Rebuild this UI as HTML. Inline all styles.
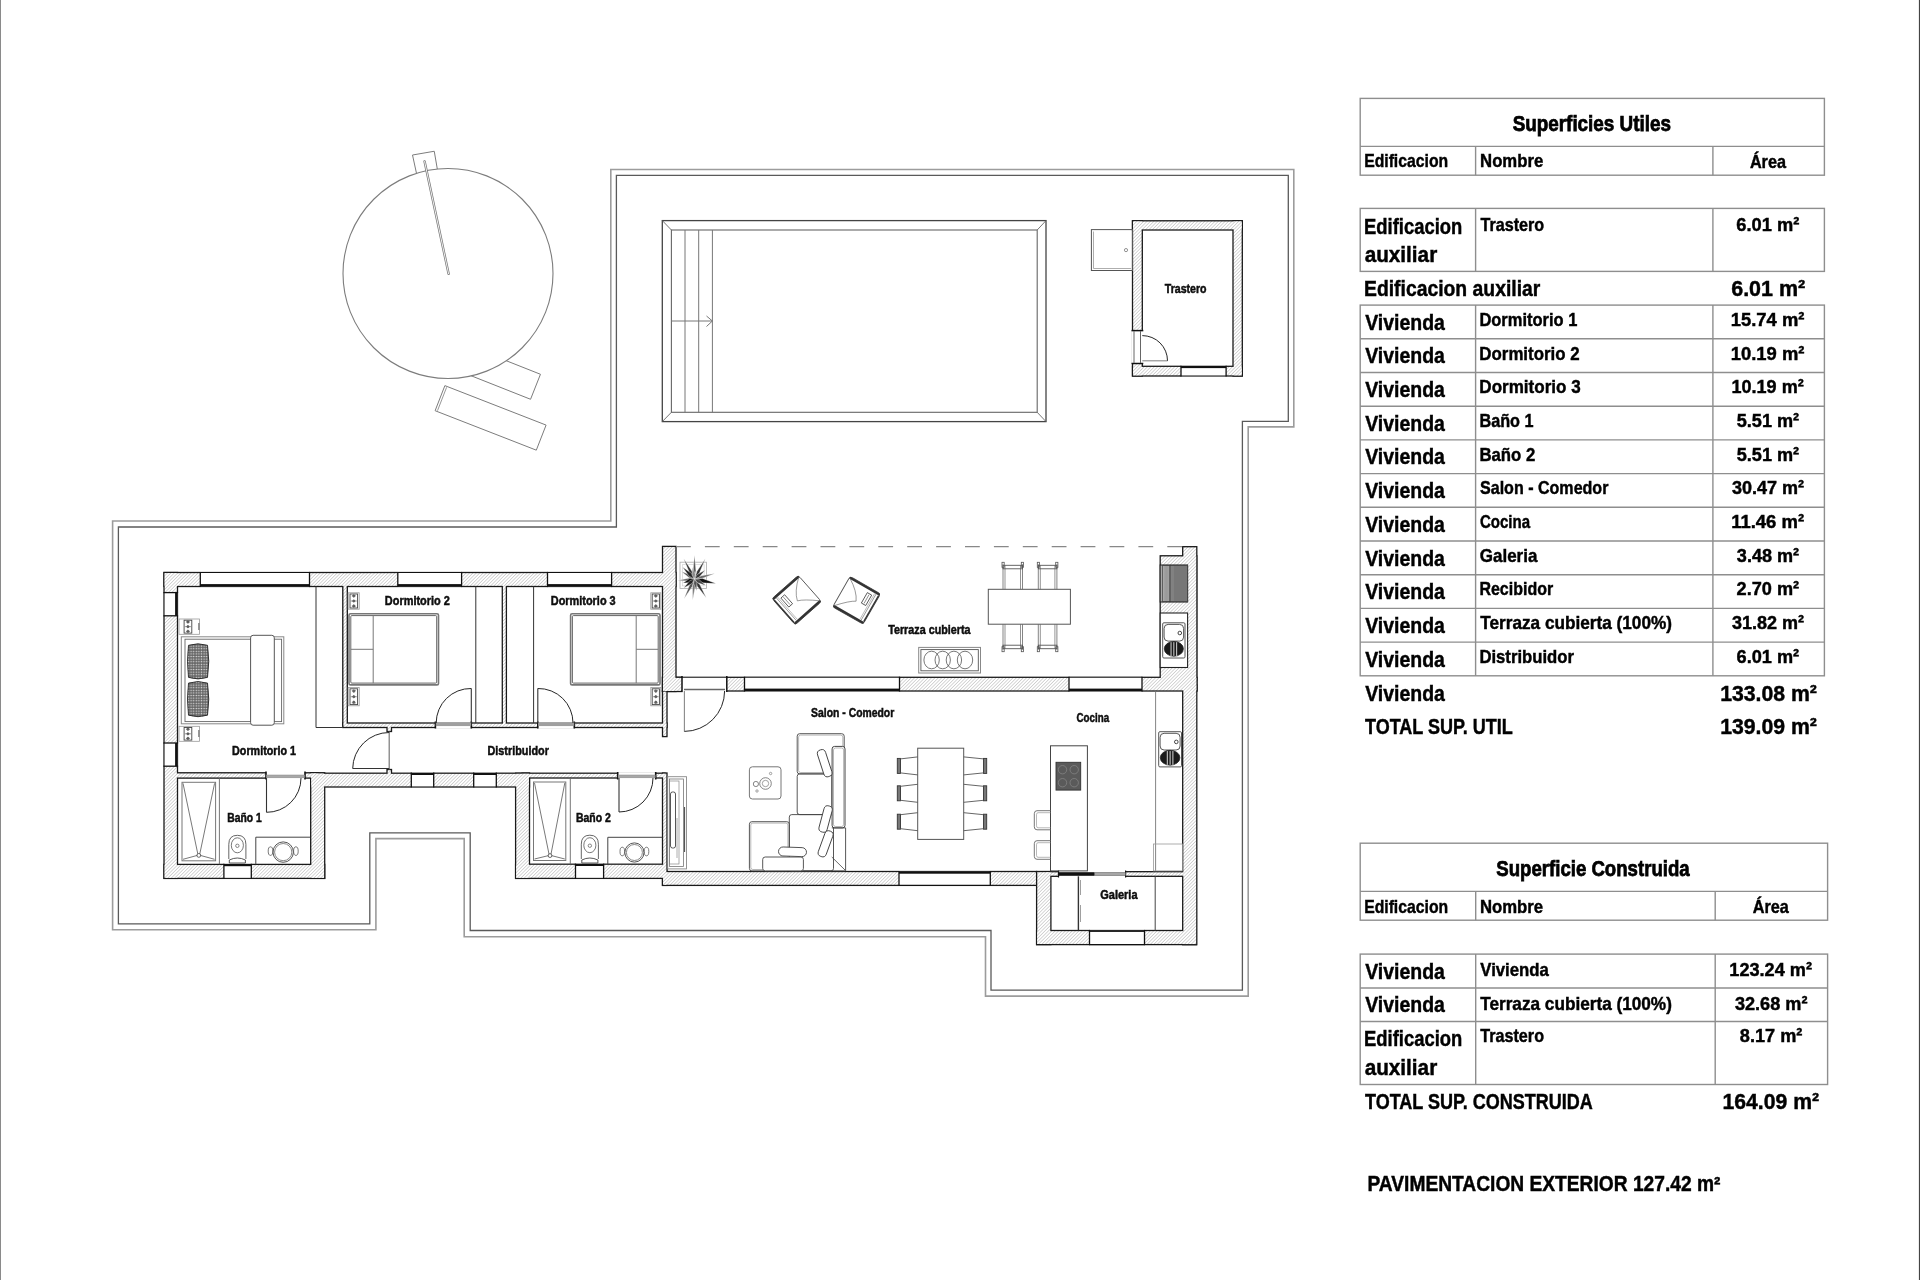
<!DOCTYPE html>
<html><head><meta charset="utf-8"><title>Plano</title>
<style>html,body{margin:0;padding:0;background:#fff;}svg{display:block;will-change:transform;opacity:0.999;}
text{font-family:"Liberation Sans",sans-serif;font-weight:bold;stroke:#000;stroke-width:0.45px;}</style></head>
<body><svg width="1920" height="1280" viewBox="0 0 1920 1280">
<defs><pattern id="knit" width="2.6" height="2.6" patternUnits="userSpaceOnUse"><rect width="2.6" height="2.6" fill="#666"/><circle cx="1.3" cy="1.3" r="0.75" fill="#ddd"/></pattern><pattern id="hatch" width="2.4" height="2.4" patternUnits="userSpaceOnUse" patternTransform="rotate(45)"><rect width="2.4" height="2.4" fill="#fff"/><line x1="0" y1="0" x2="0" y2="2.4" stroke="#9c9c9c" stroke-width="0.8"/></pattern></defs>
<rect width="1920" height="1280" fill="#fff"/>
<line x1="0.50" y1="0.00" x2="0.50" y2="1280.00" stroke="#8a8a8a" stroke-width="1" />
<line x1="1919.50" y1="0.00" x2="1919.50" y2="1280.00" stroke="#444" stroke-width="1.2" />
<polygon points="112.60,521.00 610.80,521.00 610.80,169.50 1293.80,169.50 1293.80,426.90 1248.20,426.90 1248.20,996.10 985.50,996.10 985.50,936.80 464.20,936.80 464.20,838.60 375.90,838.60 375.90,929.70 112.60,929.70" stroke="#9c9c9c" stroke-width="1.6" fill="none" />
<polygon points="118.40,527.00 616.40,527.00 616.40,175.30 1288.30,175.30 1288.30,421.40 1242.40,421.40 1242.40,990.20 991.00,990.20 991.00,930.50 470.20,930.50 470.20,832.80 369.80,832.80 369.80,923.80 118.40,923.80" stroke="#5a5a5a" stroke-width="1.3" fill="none" />
<g>
<rect x="164.00" y="572.50" width="512.00" height="14.00" stroke="#1a1a1a" stroke-width="1.3" fill="#1a1a1a" />
<rect x="164.00" y="572.50" width="13.50" height="305.90" stroke="#1a1a1a" stroke-width="1.3" fill="#1a1a1a" />
<rect x="164.00" y="864.40" width="160.70" height="14.00" stroke="#1a1a1a" stroke-width="1.3" fill="#1a1a1a" />
<rect x="310.70" y="772.80" width="14.00" height="105.60" stroke="#1a1a1a" stroke-width="1.3" fill="#1a1a1a" />
<rect x="310.70" y="773.20" width="218.80" height="13.80" stroke="#1a1a1a" stroke-width="1.3" fill="#1a1a1a" />
<rect x="515.60" y="773.20" width="13.90" height="105.20" stroke="#1a1a1a" stroke-width="1.3" fill="#1a1a1a" />
<rect x="515.60" y="864.20" width="151.10" height="14.20" stroke="#1a1a1a" stroke-width="1.3" fill="#1a1a1a" />
<rect x="662.50" y="773.00" width="4.50" height="112.40" stroke="#1a1a1a" stroke-width="1.3" fill="#1a1a1a" />
<rect x="170.00" y="772.80" width="148.00" height="5.30" stroke="#1a1a1a" stroke-width="1.3" fill="#1a1a1a" />
<rect x="522.00" y="773.20" width="143.00" height="4.80" stroke="#1a1a1a" stroke-width="1.3" fill="#1a1a1a" />
<rect x="342.80" y="580.00" width="4.50" height="145.00" stroke="#1a1a1a" stroke-width="1.3" fill="#1a1a1a" />
<rect x="502.30" y="580.00" width="4.10" height="145.00" stroke="#1a1a1a" stroke-width="1.3" fill="#1a1a1a" />
<rect x="342.80" y="723.00" width="324.20" height="4.50" stroke="#1a1a1a" stroke-width="1.3" fill="#1a1a1a" />
<rect x="387.00" y="725.00" width="4.50" height="6.50" stroke="#1a1a1a" stroke-width="1.3" fill="#1a1a1a" />
<rect x="387.00" y="769.50" width="4.50" height="6.50" stroke="#1a1a1a" stroke-width="1.3" fill="#1a1a1a" />
<rect x="662.50" y="546.40" width="13.50" height="145.10" stroke="#1a1a1a" stroke-width="1.3" fill="#1a1a1a" />
<rect x="662.50" y="677.30" width="19.50" height="14.20" stroke="#1a1a1a" stroke-width="1.3" fill="#1a1a1a" />
<rect x="662.50" y="691.00" width="4.50" height="45.60" stroke="#1a1a1a" stroke-width="1.3" fill="#1a1a1a" />
<rect x="662.50" y="677.30" width="534.50" height="13.70" stroke="#1a1a1a" stroke-width="1.3" fill="#1a1a1a" />
<rect x="1182.70" y="546.70" width="14.10" height="144.30" stroke="#1a1a1a" stroke-width="1.3" fill="#1a1a1a" />
<rect x="1160.20" y="555.80" width="36.60" height="124.20" stroke="#1a1a1a" stroke-width="1.3" fill="#1a1a1a" />
<rect x="1182.70" y="685.00" width="14.10" height="259.70" stroke="#1a1a1a" stroke-width="1.3" fill="#1a1a1a" />
<rect x="662.50" y="871.50" width="374.10" height="13.90" stroke="#1a1a1a" stroke-width="1.3" fill="#1a1a1a" />
<rect x="1036.60" y="871.50" width="14.30" height="73.10" stroke="#1a1a1a" stroke-width="1.3" fill="#1a1a1a" />
<rect x="1036.60" y="930.50" width="159.70" height="14.10" stroke="#1a1a1a" stroke-width="1.3" fill="#1a1a1a" />
<rect x="1045.00" y="871.70" width="143.00" height="4.60" stroke="#1a1a1a" stroke-width="1.3" fill="#1a1a1a" />
<rect x="1132.50" y="220.80" width="109.80" height="9.20" stroke="#1a1a1a" stroke-width="1.3" fill="#1a1a1a" />
<rect x="1132.50" y="366.30" width="109.80" height="9.70" stroke="#1a1a1a" stroke-width="1.3" fill="#1a1a1a" />
<rect x="1132.50" y="220.80" width="9.80" height="155.20" stroke="#1a1a1a" stroke-width="1.3" fill="#1a1a1a" />
<rect x="1233.00" y="220.80" width="9.30" height="155.20" stroke="#1a1a1a" stroke-width="1.3" fill="#1a1a1a" />
<rect x="164.65" y="573.15" width="510.70" height="12.70" stroke="none" stroke-width="0" fill="url(#hatch)" />
<rect x="164.65" y="573.15" width="12.20" height="304.60" stroke="none" stroke-width="0" fill="url(#hatch)" />
<rect x="164.65" y="865.05" width="159.40" height="12.70" stroke="none" stroke-width="0" fill="url(#hatch)" />
<rect x="311.35" y="773.45" width="12.70" height="104.30" stroke="none" stroke-width="0" fill="url(#hatch)" />
<rect x="311.35" y="773.85" width="217.50" height="12.50" stroke="none" stroke-width="0" fill="url(#hatch)" />
<rect x="516.25" y="773.85" width="12.60" height="103.90" stroke="none" stroke-width="0" fill="url(#hatch)" />
<rect x="516.25" y="864.85" width="149.80" height="12.90" stroke="none" stroke-width="0" fill="url(#hatch)" />
<rect x="663.15" y="773.65" width="3.20" height="111.10" stroke="none" stroke-width="0" fill="url(#hatch)" />
<rect x="170.65" y="773.45" width="146.70" height="4.00" stroke="none" stroke-width="0" fill="url(#hatch)" />
<rect x="522.65" y="773.85" width="141.70" height="3.50" stroke="none" stroke-width="0" fill="url(#hatch)" />
<rect x="343.45" y="580.65" width="3.20" height="143.70" stroke="none" stroke-width="0" fill="url(#hatch)" />
<rect x="502.95" y="580.65" width="2.80" height="143.70" stroke="none" stroke-width="0" fill="url(#hatch)" />
<rect x="343.45" y="723.65" width="322.90" height="3.20" stroke="none" stroke-width="0" fill="url(#hatch)" />
<rect x="387.65" y="725.65" width="3.20" height="5.20" stroke="none" stroke-width="0" fill="url(#hatch)" />
<rect x="387.65" y="770.15" width="3.20" height="5.20" stroke="none" stroke-width="0" fill="url(#hatch)" />
<rect x="663.15" y="547.05" width="12.20" height="143.80" stroke="none" stroke-width="0" fill="url(#hatch)" />
<rect x="663.15" y="677.95" width="18.20" height="12.90" stroke="none" stroke-width="0" fill="url(#hatch)" />
<rect x="663.15" y="691.65" width="3.20" height="44.30" stroke="none" stroke-width="0" fill="url(#hatch)" />
<rect x="663.15" y="677.95" width="533.20" height="12.40" stroke="none" stroke-width="0" fill="url(#hatch)" />
<rect x="1183.35" y="547.35" width="12.80" height="143.00" stroke="none" stroke-width="0" fill="url(#hatch)" />
<rect x="1160.85" y="556.45" width="35.30" height="122.90" stroke="none" stroke-width="0" fill="url(#hatch)" />
<rect x="1183.35" y="685.65" width="12.80" height="258.40" stroke="none" stroke-width="0" fill="url(#hatch)" />
<rect x="663.15" y="872.15" width="372.80" height="12.60" stroke="none" stroke-width="0" fill="url(#hatch)" />
<rect x="1037.25" y="872.15" width="13.00" height="71.80" stroke="none" stroke-width="0" fill="url(#hatch)" />
<rect x="1037.25" y="931.15" width="158.40" height="12.80" stroke="none" stroke-width="0" fill="url(#hatch)" />
<rect x="1045.65" y="872.35" width="141.70" height="3.30" stroke="none" stroke-width="0" fill="url(#hatch)" />
<rect x="1133.15" y="221.45" width="108.50" height="7.90" stroke="none" stroke-width="0" fill="url(#hatch)" />
<rect x="1133.15" y="366.95" width="108.50" height="8.40" stroke="none" stroke-width="0" fill="url(#hatch)" />
<rect x="1133.15" y="221.45" width="8.50" height="153.90" stroke="none" stroke-width="0" fill="url(#hatch)" />
<rect x="1233.65" y="221.45" width="8.00" height="153.90" stroke="none" stroke-width="0" fill="url(#hatch)" />
</g>
<rect x="200.30" y="571.80" width="109.20" height="15.40" stroke="none" stroke-width="0" fill="#fff" />
<line x1="200.30" y1="571.90" x2="200.30" y2="587.10" stroke="#111" stroke-width="1.3" />
<line x1="309.50" y1="571.90" x2="309.50" y2="587.10" stroke="#111" stroke-width="1.3" />
<line x1="200.30" y1="572.50" x2="309.50" y2="572.50" stroke="#111" stroke-width="1.1" />
<rect x="200.30" y="584.10" width="109.20" height="2.80" stroke="none" stroke-width="0" fill="#111" />
<rect x="397.80" y="571.80" width="63.80" height="15.40" stroke="none" stroke-width="0" fill="#fff" />
<line x1="397.80" y1="571.90" x2="397.80" y2="587.10" stroke="#111" stroke-width="1.3" />
<line x1="461.60" y1="571.90" x2="461.60" y2="587.10" stroke="#111" stroke-width="1.3" />
<line x1="397.80" y1="572.50" x2="461.60" y2="572.50" stroke="#111" stroke-width="1.1" />
<rect x="397.80" y="584.10" width="63.80" height="2.80" stroke="none" stroke-width="0" fill="#111" />
<rect x="547.50" y="571.80" width="64.10" height="15.40" stroke="none" stroke-width="0" fill="#fff" />
<line x1="547.50" y1="571.90" x2="547.50" y2="587.10" stroke="#111" stroke-width="1.3" />
<line x1="611.60" y1="571.90" x2="611.60" y2="587.10" stroke="#111" stroke-width="1.3" />
<line x1="547.50" y1="572.50" x2="611.60" y2="572.50" stroke="#111" stroke-width="1.1" />
<rect x="547.50" y="584.10" width="64.10" height="2.80" stroke="none" stroke-width="0" fill="#111" />
<rect x="163.30" y="592.60" width="14.90" height="23.20" stroke="none" stroke-width="0" fill="#fff" />
<line x1="163.40" y1="592.60" x2="178.10" y2="592.60" stroke="#111" stroke-width="1.3" />
<line x1="163.40" y1="615.80" x2="178.10" y2="615.80" stroke="#111" stroke-width="1.3" />
<line x1="164.00" y1="592.60" x2="164.00" y2="615.80" stroke="#111" stroke-width="1.1" />
<rect x="175.10" y="592.60" width="2.80" height="23.20" stroke="none" stroke-width="0" fill="#111" />
<rect x="163.30" y="743.00" width="14.90" height="23.20" stroke="none" stroke-width="0" fill="#fff" />
<line x1="163.40" y1="743.00" x2="178.10" y2="743.00" stroke="#111" stroke-width="1.3" />
<line x1="163.40" y1="766.20" x2="178.10" y2="766.20" stroke="#111" stroke-width="1.3" />
<line x1="164.00" y1="743.00" x2="164.00" y2="766.20" stroke="#111" stroke-width="1.1" />
<rect x="175.10" y="743.00" width="2.80" height="23.20" stroke="none" stroke-width="0" fill="#111" />
<rect x="223.90" y="863.70" width="27.40" height="15.40" stroke="none" stroke-width="0" fill="#fff" />
<line x1="223.90" y1="863.80" x2="223.90" y2="879.00" stroke="#111" stroke-width="1.3" />
<line x1="251.30" y1="863.80" x2="251.30" y2="879.00" stroke="#111" stroke-width="1.3" />
<line x1="223.90" y1="878.40" x2="251.30" y2="878.40" stroke="#111" stroke-width="1.1" />
<rect x="223.90" y="864.00" width="27.40" height="2.20" stroke="none" stroke-width="0" fill="#111" />
<rect x="575.50" y="863.50" width="28.10" height="15.60" stroke="none" stroke-width="0" fill="#fff" />
<line x1="575.50" y1="863.60" x2="575.50" y2="879.00" stroke="#111" stroke-width="1.3" />
<line x1="603.60" y1="863.60" x2="603.60" y2="879.00" stroke="#111" stroke-width="1.3" />
<line x1="575.50" y1="878.40" x2="603.60" y2="878.40" stroke="#111" stroke-width="1.1" />
<rect x="575.50" y="863.80" width="28.10" height="2.20" stroke="none" stroke-width="0" fill="#111" />
<rect x="411.30" y="772.50" width="22.40" height="15.20" stroke="none" stroke-width="0" fill="#fff" />
<line x1="411.30" y1="772.60" x2="411.30" y2="787.60" stroke="#111" stroke-width="1.3" />
<line x1="433.70" y1="772.60" x2="433.70" y2="787.60" stroke="#111" stroke-width="1.3" />
<line x1="411.30" y1="787.00" x2="433.70" y2="787.00" stroke="#111" stroke-width="1.1" />
<rect x="411.30" y="772.80" width="22.40" height="2.20" stroke="none" stroke-width="0" fill="#111" />
<rect x="473.70" y="772.50" width="22.60" height="15.20" stroke="none" stroke-width="0" fill="#fff" />
<line x1="473.70" y1="772.60" x2="473.70" y2="787.60" stroke="#111" stroke-width="1.3" />
<line x1="496.30" y1="772.60" x2="496.30" y2="787.60" stroke="#111" stroke-width="1.3" />
<line x1="473.70" y1="787.00" x2="496.30" y2="787.00" stroke="#111" stroke-width="1.1" />
<rect x="473.70" y="772.80" width="22.60" height="2.20" stroke="none" stroke-width="0" fill="#111" />
<rect x="744.50" y="676.60" width="155.00" height="15.10" stroke="none" stroke-width="0" fill="#fff" />
<line x1="744.50" y1="676.70" x2="744.50" y2="691.60" stroke="#111" stroke-width="1.3" />
<line x1="899.50" y1="676.70" x2="899.50" y2="691.60" stroke="#111" stroke-width="1.3" />
<line x1="744.50" y1="677.30" x2="899.50" y2="677.30" stroke="#111" stroke-width="1.1" />
<rect x="744.50" y="688.60" width="155.00" height="2.80" stroke="none" stroke-width="0" fill="#111" />
<rect x="1069.00" y="676.60" width="73.00" height="15.10" stroke="none" stroke-width="0" fill="#fff" />
<line x1="1069.00" y1="676.70" x2="1069.00" y2="691.60" stroke="#111" stroke-width="1.3" />
<line x1="1142.00" y1="676.70" x2="1142.00" y2="691.60" stroke="#111" stroke-width="1.3" />
<line x1="1069.00" y1="677.30" x2="1142.00" y2="677.30" stroke="#111" stroke-width="1.1" />
<rect x="1069.00" y="688.60" width="73.00" height="2.80" stroke="none" stroke-width="0" fill="#111" />
<rect x="899.00" y="870.80" width="91.30" height="15.30" stroke="none" stroke-width="0" fill="#fff" />
<line x1="899.00" y1="870.90" x2="899.00" y2="886.00" stroke="#111" stroke-width="1.3" />
<line x1="990.30" y1="870.90" x2="990.30" y2="886.00" stroke="#111" stroke-width="1.3" />
<line x1="899.00" y1="885.40" x2="990.30" y2="885.40" stroke="#111" stroke-width="1.1" />
<rect x="899.00" y="871.10" width="91.30" height="2.60" stroke="none" stroke-width="0" fill="#111" />
<rect x="1089.50" y="929.80" width="55.00" height="15.50" stroke="none" stroke-width="0" fill="#fff" />
<line x1="1089.50" y1="929.90" x2="1089.50" y2="945.20" stroke="#111" stroke-width="1.3" />
<line x1="1144.50" y1="929.90" x2="1144.50" y2="945.20" stroke="#111" stroke-width="1.3" />
<line x1="1089.50" y1="944.60" x2="1144.50" y2="944.60" stroke="#111" stroke-width="1.1" />
<rect x="1089.50" y="930.10" width="55.00" height="1.80" stroke="none" stroke-width="0" fill="#111" />
<rect x="1181.00" y="365.60" width="45.10" height="11.10" stroke="none" stroke-width="0" fill="#fff" />
<line x1="1181.00" y1="365.70" x2="1181.00" y2="376.60" stroke="#111" stroke-width="1.3" />
<line x1="1226.10" y1="365.70" x2="1226.10" y2="376.60" stroke="#111" stroke-width="1.3" />
<line x1="1181.00" y1="376.00" x2="1226.10" y2="376.00" stroke="#111" stroke-width="1.1" />
<rect x="1181.00" y="365.90" width="45.10" height="2.20" stroke="none" stroke-width="0" fill="#111" />
<rect x="435.40" y="722.00" width="35.90" height="6.50" stroke="none" stroke-width="0" fill="#fff" />
<rect x="537.80" y="722.00" width="36.50" height="6.50" stroke="none" stroke-width="0" fill="#fff" />
<line x1="435.40" y1="721.50" x2="435.40" y2="728.50" stroke="#111" stroke-width="1.6" />
<line x1="471.30" y1="721.50" x2="471.30" y2="728.50" stroke="#111" stroke-width="1.6" />
<line x1="537.80" y1="721.50" x2="537.80" y2="728.50" stroke="#111" stroke-width="1.6" />
<line x1="574.30" y1="721.50" x2="574.30" y2="728.50" stroke="#111" stroke-width="1.6" />
<rect x="436.00" y="722.40" width="35.00" height="3.40" stroke="#888" stroke-width="0.5" fill="#a0a0a0" />
<rect x="538.20" y="722.40" width="35.80" height="3.40" stroke="#888" stroke-width="0.5" fill="#a0a0a0" />
<line x1="471.30" y1="723.00" x2="471.30" y2="688.50" stroke="#333" stroke-width="1.1" />
<path d="M471.30,688.50 A34.50,34.50 0 0 0 436.20,723.00" stroke="#262626" stroke-width="1.0" fill="none" />
<line x1="537.80" y1="723.00" x2="537.80" y2="688.50" stroke="#333" stroke-width="1.1" />
<path d="M537.80,688.50 A34.50,34.50 0 0 1 573.00,723.00" stroke="#262626" stroke-width="1.0" fill="none" />
<rect x="266.00" y="771.80" width="39.00" height="7.30" stroke="none" stroke-width="0" fill="#fff" />
<line x1="266.00" y1="771.50" x2="266.00" y2="779.50" stroke="#111" stroke-width="1.6" />
<line x1="305.00" y1="771.50" x2="305.00" y2="779.50" stroke="#111" stroke-width="1.6" />
<rect x="266.50" y="775.00" width="38.00" height="2.80" stroke="#888" stroke-width="0.5" fill="#a8a8a8" />
<line x1="266.50" y1="778.10" x2="266.50" y2="812.30" stroke="#333" stroke-width="1.1" />
<path d="M266.50,812.30 A34.20,34.20 0 0 0 301.00,778.10" stroke="#262626" stroke-width="1.0" fill="none" />
<rect x="617.70" y="772.20" width="38.00" height="6.80" stroke="none" stroke-width="0" fill="#fff" />
<line x1="617.70" y1="772.00" x2="617.70" y2="779.50" stroke="#111" stroke-width="1.6" />
<line x1="655.70" y1="772.00" x2="655.70" y2="779.50" stroke="#111" stroke-width="1.6" />
<rect x="618.20" y="775.00" width="37.00" height="2.80" stroke="#888" stroke-width="0.5" fill="#a8a8a8" />
<line x1="619.00" y1="778.00" x2="619.00" y2="812.00" stroke="#333" stroke-width="1.1" />
<path d="M619.00,812.00 A34.00,34.00 0 0 0 653.00,778.00" stroke="#262626" stroke-width="1.0" fill="none" />
<line x1="389.20" y1="731.50" x2="389.20" y2="769.50" stroke="#777" stroke-width="1.2" />
<line x1="389.20" y1="768.50" x2="352.70" y2="768.50" stroke="#333" stroke-width="1.1" />
<path d="M352.70,768.50 A36.50,36.50 0 0 1 389.20,732.50" stroke="#262626" stroke-width="1.0" fill="none" />
<rect x="682.00" y="676.30" width="44.80" height="15.70" stroke="none" stroke-width="0" fill="#fff" />
<line x1="682.00" y1="676.00" x2="682.00" y2="692.00" stroke="#111" stroke-width="1.5" />
<line x1="726.80" y1="676.00" x2="726.80" y2="692.00" stroke="#111" stroke-width="1.5" />
<line x1="684.00" y1="689.50" x2="725.00" y2="689.50" stroke="#666" stroke-width="1.6" />
<line x1="682.00" y1="677.30" x2="726.80" y2="677.30" stroke="#111" stroke-width="1.1" />
<line x1="684.40" y1="691.00" x2="684.40" y2="731.40" stroke="#888" stroke-width="1.1" />
<path d="M684.40,731.40 A40.40,40.40 0 0 0 724.60,691.00" stroke="#262626" stroke-width="1.0" fill="none" />
<rect x="1131.50" y="330.60" width="11.80" height="32.90" stroke="none" stroke-width="0" fill="#fff" />
<line x1="1131.50" y1="330.60" x2="1143.30" y2="330.60" stroke="#111" stroke-width="1.5" />
<line x1="1131.50" y1="363.50" x2="1143.30" y2="363.50" stroke="#111" stroke-width="1.5" />
<line x1="1134.00" y1="331.00" x2="1134.00" y2="363.00" stroke="#666" stroke-width="1" />
<line x1="1140.50" y1="331.00" x2="1140.50" y2="363.00" stroke="#666" stroke-width="1" />
<line x1="1142.30" y1="360.80" x2="1167.50" y2="360.80" stroke="#888" stroke-width="1.1" />
<path d="M1167.50,360.80 A25.20,25.20 0 0 0 1142.30,335.60" stroke="#262626" stroke-width="1.0" fill="none" />
<rect x="1058.50" y="870.70" width="67.10" height="6.60" stroke="none" stroke-width="0" fill="#fff" />
<line x1="1058.50" y1="870.50" x2="1058.50" y2="877.50" stroke="#111" stroke-width="1.2" />
<line x1="1125.60" y1="870.50" x2="1125.60" y2="877.50" stroke="#111" stroke-width="1.2" />
<rect x="1058.50" y="872.20" width="35.90" height="3.60" stroke="none" stroke-width="0" fill="#111" />
<rect x="1094.40" y="872.80" width="31.20" height="2.40" stroke="#555" stroke-width="0.8" fill="#bbb" />
<g font-family="Liberation Sans, sans-serif" font-weight="bold">
<text x="232.08" y="754.70" font-size="12.2" textLength="63.92" lengthAdjust="spacingAndGlyphs" fill="#111">Dormitorio 1</text>
<text x="384.87" y="604.80" font-size="12.2" textLength="64.97" lengthAdjust="spacingAndGlyphs" fill="#111">Dormitorio 2</text>
<text x="550.77" y="604.80" font-size="12.2" textLength="64.92" lengthAdjust="spacingAndGlyphs" fill="#111">Dormitorio 3</text>
<text x="487.47" y="754.80" font-size="12.2" textLength="61.39" lengthAdjust="spacingAndGlyphs" fill="#111">Distribuidor</text>
<text x="227.31" y="822.00" font-size="12.2" textLength="34.48" lengthAdjust="spacingAndGlyphs" fill="#111">Baño 1</text>
<text x="575.90" y="821.70" font-size="12.2" textLength="34.92" lengthAdjust="spacingAndGlyphs" fill="#111">Baño 2</text>
<text x="888.18" y="634.00" font-size="12.2" textLength="82.36" lengthAdjust="spacingAndGlyphs" fill="#111">Terraza cubierta</text>
<text x="811.10" y="716.70" font-size="12.2" textLength="83.16" lengthAdjust="spacingAndGlyphs" fill="#111">Salon - Comedor</text>
<text x="1076.50" y="722.40" font-size="12.2" textLength="32.64" lengthAdjust="spacingAndGlyphs" fill="#111">Cocina</text>
<text x="1100.25" y="898.60" font-size="12.2" textLength="37.29" lengthAdjust="spacingAndGlyphs" fill="#111">Galeria</text>
<text x="1164.78" y="293.10" font-size="12.2" textLength="41.83" lengthAdjust="spacingAndGlyphs" fill="#111">Trastero</text>
</g>
<rect x="1360.20" y="98.40" width="464.20" height="76.80" stroke="#8e8e8e" stroke-width="1.4" fill="none" />
<line x1="1360.20" y1="146.40" x2="1824.40" y2="146.40" stroke="#8e8e8e" stroke-width="1.4" />
<line x1="1475.60" y1="146.40" x2="1475.60" y2="175.20" stroke="#8e8e8e" stroke-width="1.4" />
<line x1="1712.90" y1="146.40" x2="1712.90" y2="175.20" stroke="#8e8e8e" stroke-width="1.4" />
<rect x="1360.20" y="208.40" width="464.20" height="63.00" stroke="#8e8e8e" stroke-width="1.4" fill="none" />
<line x1="1475.60" y1="208.40" x2="1475.60" y2="271.40" stroke="#8e8e8e" stroke-width="1.4" />
<line x1="1712.90" y1="208.40" x2="1712.90" y2="271.40" stroke="#8e8e8e" stroke-width="1.4" />
<rect x="1360.20" y="305.10" width="464.20" height="370.70" stroke="#8e8e8e" stroke-width="1.4" fill="none" />
<line x1="1360.20" y1="338.80" x2="1824.40" y2="338.80" stroke="#8e8e8e" stroke-width="1.4" />
<line x1="1360.20" y1="372.50" x2="1824.40" y2="372.50" stroke="#8e8e8e" stroke-width="1.4" />
<line x1="1360.20" y1="406.20" x2="1824.40" y2="406.20" stroke="#8e8e8e" stroke-width="1.4" />
<line x1="1360.20" y1="439.90" x2="1824.40" y2="439.90" stroke="#8e8e8e" stroke-width="1.4" />
<line x1="1360.20" y1="473.60" x2="1824.40" y2="473.60" stroke="#8e8e8e" stroke-width="1.4" />
<line x1="1360.20" y1="507.30" x2="1824.40" y2="507.30" stroke="#8e8e8e" stroke-width="1.4" />
<line x1="1360.20" y1="541.00" x2="1824.40" y2="541.00" stroke="#8e8e8e" stroke-width="1.4" />
<line x1="1360.20" y1="574.70" x2="1824.40" y2="574.70" stroke="#8e8e8e" stroke-width="1.4" />
<line x1="1360.20" y1="608.40" x2="1824.40" y2="608.40" stroke="#8e8e8e" stroke-width="1.4" />
<line x1="1360.20" y1="642.10" x2="1824.40" y2="642.10" stroke="#8e8e8e" stroke-width="1.4" />
<line x1="1475.60" y1="305.10" x2="1475.60" y2="675.80" stroke="#8e8e8e" stroke-width="1.4" />
<line x1="1712.90" y1="305.10" x2="1712.90" y2="675.80" stroke="#8e8e8e" stroke-width="1.4" />
<rect x="1360.20" y="843.20" width="467.40" height="77.00" stroke="#8e8e8e" stroke-width="1.4" fill="none" />
<line x1="1360.20" y1="891.40" x2="1827.60" y2="891.40" stroke="#8e8e8e" stroke-width="1.4" />
<line x1="1475.70" y1="891.40" x2="1475.70" y2="920.20" stroke="#8e8e8e" stroke-width="1.4" />
<line x1="1715.20" y1="891.40" x2="1715.20" y2="920.20" stroke="#8e8e8e" stroke-width="1.4" />
<rect x="1360.20" y="954.10" width="467.40" height="130.40" stroke="#8e8e8e" stroke-width="1.4" fill="none" />
<line x1="1360.20" y1="988.00" x2="1827.60" y2="988.00" stroke="#8e8e8e" stroke-width="1.4" />
<line x1="1360.20" y1="1021.50" x2="1827.60" y2="1021.50" stroke="#8e8e8e" stroke-width="1.4" />
<line x1="1475.70" y1="954.10" x2="1475.70" y2="1084.50" stroke="#8e8e8e" stroke-width="1.4" />
<line x1="1715.20" y1="954.10" x2="1715.20" y2="1084.50" stroke="#8e8e8e" stroke-width="1.4" />
<g font-family="Liberation Sans, sans-serif" font-weight="bold">
<text style="stroke-width:0.75px" x="1512.65" y="130.80" font-size="22" textLength="158.32" lengthAdjust="spacingAndGlyphs" fill="#000">Superficies Utiles</text>
<text x="1364.14" y="167.40" font-size="19" textLength="84.02" lengthAdjust="spacingAndGlyphs" fill="#000">Edificacion</text>
<text x="1480.08" y="167.40" font-size="19" textLength="63.19" lengthAdjust="spacingAndGlyphs" fill="#000">Nombre</text>
<text x="1749.89" y="167.50" font-size="19" textLength="36.12" lengthAdjust="spacingAndGlyphs" fill="#000">Área</text>
<text x="1364.07" y="233.60" font-size="22" textLength="98.16" lengthAdjust="spacingAndGlyphs" fill="#000">Edificacion</text>
<text x="1364.70" y="262.30" font-size="22" textLength="72.51" lengthAdjust="spacingAndGlyphs" fill="#000">auxiliar</text>
<text x="1480.42" y="230.50" font-size="19" textLength="63.81" lengthAdjust="spacingAndGlyphs" fill="#000">Trastero</text>
<text x="1736.37" y="230.50" font-size="19" textLength="62.97" lengthAdjust="spacingAndGlyphs" fill="#000">6.01 m²</text>
<text x="1364.00" y="296.10" font-size="22" textLength="176.29" lengthAdjust="spacingAndGlyphs" fill="#000">Edificacion auxiliar</text>
<text x="1731.20" y="296.10" font-size="22" textLength="74.05" lengthAdjust="spacingAndGlyphs" fill="#000">6.01 m²</text>
<text x="1365.16" y="329.60" font-size="22" textLength="79.71" lengthAdjust="spacingAndGlyphs" fill="#000">Vivienda</text>
<text x="1479.40" y="325.80" font-size="19" textLength="97.96" lengthAdjust="spacingAndGlyphs" fill="#000">Dormitorio 1</text>
<text x="1730.79" y="325.80" font-size="19" textLength="73.65" lengthAdjust="spacingAndGlyphs" fill="#000">15.74 m²</text>
<text x="1365.16" y="363.30" font-size="22" textLength="79.71" lengthAdjust="spacingAndGlyphs" fill="#000">Vivienda</text>
<text x="1479.37" y="359.50" font-size="19" textLength="100.20" lengthAdjust="spacingAndGlyphs" fill="#000">Dormitorio 2</text>
<text x="1730.79" y="359.50" font-size="19" textLength="73.65" lengthAdjust="spacingAndGlyphs" fill="#000">10.19 m²</text>
<text x="1365.16" y="397.00" font-size="22" textLength="79.71" lengthAdjust="spacingAndGlyphs" fill="#000">Vivienda</text>
<text x="1479.36" y="393.20" font-size="19" textLength="101.25" lengthAdjust="spacingAndGlyphs" fill="#000">Dormitorio 3</text>
<text x="1731.51" y="393.20" font-size="19" textLength="72.22" lengthAdjust="spacingAndGlyphs" fill="#000">10.19 m²</text>
<text x="1365.16" y="430.70" font-size="22" textLength="79.71" lengthAdjust="spacingAndGlyphs" fill="#000">Vivienda</text>
<text x="1479.41" y="426.90" font-size="19" textLength="54.14" lengthAdjust="spacingAndGlyphs" fill="#000">Baño 1</text>
<text x="1736.69" y="426.90" font-size="19" textLength="62.45" lengthAdjust="spacingAndGlyphs" fill="#000">5.51 m²</text>
<text x="1365.16" y="464.40" font-size="22" textLength="79.71" lengthAdjust="spacingAndGlyphs" fill="#000">Vivienda</text>
<text x="1479.38" y="460.60" font-size="19" textLength="55.89" lengthAdjust="spacingAndGlyphs" fill="#000">Baño 2</text>
<text x="1736.69" y="460.60" font-size="19" textLength="62.45" lengthAdjust="spacingAndGlyphs" fill="#000">5.51 m²</text>
<text x="1365.16" y="498.10" font-size="22" textLength="79.71" lengthAdjust="spacingAndGlyphs" fill="#000">Vivienda</text>
<text x="1480.03" y="494.30" font-size="19" textLength="128.41" lengthAdjust="spacingAndGlyphs" fill="#000">Salon - Comedor</text>
<text x="1731.94" y="494.30" font-size="19" textLength="72.10" lengthAdjust="spacingAndGlyphs" fill="#000">30.47 m²</text>
<text x="1365.16" y="531.80" font-size="22" textLength="79.71" lengthAdjust="spacingAndGlyphs" fill="#000">Vivienda</text>
<text x="1479.88" y="528.00" font-size="19" textLength="50.13" lengthAdjust="spacingAndGlyphs" fill="#000">Cocina</text>
<text x="1731.19" y="528.00" font-size="19" textLength="72.86" lengthAdjust="spacingAndGlyphs" fill="#000">11.46 m²</text>
<text x="1365.16" y="565.50" font-size="22" textLength="79.71" lengthAdjust="spacingAndGlyphs" fill="#000">Vivienda</text>
<text x="1479.80" y="561.70" font-size="19" textLength="57.60" lengthAdjust="spacingAndGlyphs" fill="#000">Galeria</text>
<text x="1736.83" y="561.70" font-size="19" textLength="62.30" lengthAdjust="spacingAndGlyphs" fill="#000">3.48 m²</text>
<text x="1365.16" y="599.20" font-size="22" textLength="79.71" lengthAdjust="spacingAndGlyphs" fill="#000">Vivienda</text>
<text x="1479.43" y="595.40" font-size="19" textLength="73.71" lengthAdjust="spacingAndGlyphs" fill="#000">Recibidor</text>
<text x="1736.62" y="595.40" font-size="19" textLength="62.52" lengthAdjust="spacingAndGlyphs" fill="#000">2.70 m²</text>
<text x="1365.16" y="632.90" font-size="22" textLength="79.71" lengthAdjust="spacingAndGlyphs" fill="#000">Vivienda</text>
<text x="1480.31" y="629.10" font-size="19" textLength="191.65" lengthAdjust="spacingAndGlyphs" fill="#000">Terraza cubierta (100%)</text>
<text x="1731.94" y="629.10" font-size="19" textLength="72.10" lengthAdjust="spacingAndGlyphs" fill="#000">31.82 m²</text>
<text x="1365.16" y="666.60" font-size="22" textLength="79.71" lengthAdjust="spacingAndGlyphs" fill="#000">Vivienda</text>
<text x="1479.38" y="662.80" font-size="19" textLength="94.58" lengthAdjust="spacingAndGlyphs" fill="#000">Distribuidor</text>
<text x="1736.58" y="662.80" font-size="19" textLength="62.56" lengthAdjust="spacingAndGlyphs" fill="#000">6.01 m²</text>
<text x="1365.16" y="700.50" font-size="22" textLength="79.71" lengthAdjust="spacingAndGlyphs" fill="#000">Vivienda</text>
<text x="1720.16" y="700.50" font-size="22" textLength="96.77" lengthAdjust="spacingAndGlyphs" fill="#000">133.08 m²</text>
<text x="1365.00" y="733.70" font-size="22" textLength="147.75" lengthAdjust="spacingAndGlyphs" fill="#000">TOTAL SUP. UTIL</text>
<text x="1720.16" y="733.70" font-size="22" textLength="96.77" lengthAdjust="spacingAndGlyphs" fill="#000">139.09 m²</text>
<text style="stroke-width:0.75px" x="1496.26" y="876.00" font-size="22" textLength="193.42" lengthAdjust="spacingAndGlyphs" fill="#000">Superficie Construida</text>
<text x="1364.14" y="912.60" font-size="19" textLength="84.02" lengthAdjust="spacingAndGlyphs" fill="#000">Edificacion</text>
<text x="1479.88" y="912.60" font-size="19" textLength="63.19" lengthAdjust="spacingAndGlyphs" fill="#000">Nombre</text>
<text x="1752.79" y="912.50" font-size="19" textLength="36.12" lengthAdjust="spacingAndGlyphs" fill="#000">Área</text>
<text x="1365.16" y="978.50" font-size="22" textLength="79.71" lengthAdjust="spacingAndGlyphs" fill="#000">Vivienda</text>
<text x="1480.28" y="975.50" font-size="19" textLength="68.62" lengthAdjust="spacingAndGlyphs" fill="#000">Vivienda</text>
<text x="1729.30" y="975.50" font-size="19" textLength="82.63" lengthAdjust="spacingAndGlyphs" fill="#000">123.24 m²</text>
<text x="1365.16" y="1011.70" font-size="22" textLength="79.71" lengthAdjust="spacingAndGlyphs" fill="#000">Vivienda</text>
<text x="1480.21" y="1009.60" font-size="19" textLength="191.65" lengthAdjust="spacingAndGlyphs" fill="#000">Terraza cubierta (100%)</text>
<text x="1734.91" y="1009.60" font-size="19" textLength="72.55" lengthAdjust="spacingAndGlyphs" fill="#000">32.68 m²</text>
<text x="1364.07" y="1046.20" font-size="22" textLength="98.16" lengthAdjust="spacingAndGlyphs" fill="#000">Edificacion</text>
<text x="1364.70" y="1075.00" font-size="22" textLength="72.51" lengthAdjust="spacingAndGlyphs" fill="#000">auxiliar</text>
<text x="1480.22" y="1042.30" font-size="19" textLength="63.81" lengthAdjust="spacingAndGlyphs" fill="#000">Trastero</text>
<text x="1739.87" y="1042.30" font-size="19" textLength="62.47" lengthAdjust="spacingAndGlyphs" fill="#000">8.17 m²</text>
<text x="1365.00" y="1109.10" font-size="22" textLength="227.87" lengthAdjust="spacingAndGlyphs" fill="#000">TOTAL SUP. CONSTRUIDA</text>
<text x="1722.57" y="1109.10" font-size="22" textLength="96.47" lengthAdjust="spacingAndGlyphs" fill="#000">164.09 m²</text>
<text x="1367.51" y="1190.70" font-size="21.5" textLength="352.88" lengthAdjust="spacingAndGlyphs" fill="#000">PAVIMENTACION EXTERIOR 127.42 m²</text>
</g>
<rect x="662.30" y="220.60" width="383.70" height="201.00" stroke="#444" stroke-width="1.3" fill="none" />
<rect x="671.40" y="230.00" width="365.80" height="182.30" stroke="#666" stroke-width="1.1" fill="none" />
<line x1="662.30" y1="220.60" x2="671.40" y2="230.00" stroke="#666" stroke-width="0.9" />
<line x1="1046.00" y1="220.60" x2="1037.20" y2="230.00" stroke="#666" stroke-width="0.9" />
<line x1="662.30" y1="421.60" x2="671.40" y2="412.30" stroke="#666" stroke-width="0.9" />
<line x1="1046.00" y1="421.60" x2="1037.20" y2="412.30" stroke="#666" stroke-width="0.9" />
<line x1="685.00" y1="230.00" x2="685.00" y2="412.30" stroke="#777" stroke-width="1" />
<line x1="698.70" y1="230.00" x2="698.70" y2="412.30" stroke="#777" stroke-width="1" />
<line x1="712.40" y1="230.00" x2="712.40" y2="412.30" stroke="#777" stroke-width="1" />
<line x1="671.40" y1="321.00" x2="712.40" y2="321.00" stroke="#777" stroke-width="1" />
<polyline points="706.50,316.00 712.40,321.00 706.50,326.50" stroke="#777" stroke-width="1" fill="none" />
<defs><clipPath id="outC"><path d="M0,0 H1920 V1280 H0 Z M448,273.5 m-105,0 a105,105 0 1,0 210,0 a105,105 0 1,0 -210,0 Z" clip-rule="evenodd"/></clipPath></defs>
<g clip-path="url(#outC)">
<polyline points="417.50,178.00 412.50,155.00 434.25,151.25 438.50,176.00" stroke="#7c7c7c" stroke-width="1" fill="none" />
<polygon points="530.56,399.28 430.14,359.53 440.04,334.52 540.46,374.27" stroke="#7c7c7c" stroke-width="1" fill="none" />
<polygon points="536.31,450.16 435.12,410.71 444.89,385.64 546.08,425.09" stroke="#7c7c7c" stroke-width="1" fill="none" />
</g>
<circle cx="448.00" cy="273.50" r="105.00" stroke="#7c7c7c" stroke-width="1.1" fill="none" />
<path d="M424.6,161.5 L448.6,273.8" stroke="#777" stroke-width="2.4" fill="none" stroke-linecap="round"/>
<path d="M424.6,161.5 L448.6,273.8" stroke="#fff" stroke-width="0.9" fill="none" stroke-linecap="round"/>
<line x1="446.60" y1="387.33" x2="437.52" y2="410.62" stroke="#7c7c7c" stroke-width="0.8" />
<rect x="1091.40" y="229.60" width="41.10" height="40.90" stroke="#555" stroke-width="1" fill="none" />
<line x1="1093.50" y1="231.50" x2="1093.50" y2="268.50" stroke="#999" stroke-width="0.8" />
<line x1="1093.50" y1="268.50" x2="1131.00" y2="268.50" stroke="#999" stroke-width="0.8" />
<circle cx="1126.00" cy="250.10" r="1.60" stroke="#666" stroke-width="0.7" fill="none" />
<line x1="676.00" y1="546.70" x2="1183.00" y2="546.70" stroke="#888" stroke-width="1.3" stroke-dasharray="14.8 14.1"/>
<line x1="316.00" y1="586.50" x2="316.00" y2="727.50" stroke="#333" stroke-width="1" />
<line x1="316.00" y1="727.50" x2="342.80" y2="727.50" stroke="#333" stroke-width="1" />
<rect x="181.30" y="636.80" width="102.50" height="87.00" stroke="#888" stroke-width="1" fill="none" />
<rect x="185.00" y="639.20" width="96.60" height="82.40" stroke="#666" stroke-width="0.9" fill="none" />
<rect x="250.60" y="635.30" width="23.70" height="89.90" rx="2.5" stroke="#555" stroke-width="1" fill="#fff"/>
<path d="M188.5,645.3 Q198,642.3 207.5,645.3 Q210,661.3499999999999 207.5,677.4 Q198,680.4 188.5,677.4 Q186.5,661.3499999999999 188.5,645.3 Z" fill="url(#knit)" stroke="#222" stroke-width="0.9"/>
<path d="M188.5,683.1 Q198,680.1 207.5,683.1 Q210,699.1500000000001 207.5,715.2 Q198,718.2 188.5,715.2 Q186.5,699.1500000000001 188.5,683.1 Z" fill="url(#knit)" stroke="#222" stroke-width="0.9"/>
<rect x="179.00" y="619.00" width="20.40" height="15.30" stroke="#999" stroke-width="0.8" fill="none" />
<rect x="184.10" y="620.20" width="7.70" height="12.90" stroke="#444" stroke-width="0.9" fill="none" />
<circle cx="187.95" cy="622.06" r="1.10" stroke="#333" stroke-width="0.6" fill="#777" />
<circle cx="187.95" cy="626.65" r="1.10" stroke="#333" stroke-width="0.6" fill="#777" />
<circle cx="187.95" cy="631.24" r="1.10" stroke="#333" stroke-width="0.6" fill="#777" />
<line x1="184.90" y1="626.65" x2="191.00" y2="626.65" stroke="#555" stroke-width="0.6" />
<path d="M185.95,622 Q187.95,620.8 189.95,622 M185.95,631.3 Q187.95,632.5 189.95,631.3" stroke="#555" stroke-width="0.6" fill="none" />
<rect x="179.00" y="726.30" width="20.40" height="15.00" stroke="#999" stroke-width="0.8" fill="none" />
<rect x="184.10" y="727.50" width="7.70" height="12.60" stroke="#444" stroke-width="0.9" fill="none" />
<circle cx="187.95" cy="729.30" r="1.10" stroke="#333" stroke-width="0.6" fill="#777" />
<circle cx="187.95" cy="733.80" r="1.10" stroke="#333" stroke-width="0.6" fill="#777" />
<circle cx="187.95" cy="738.30" r="1.10" stroke="#333" stroke-width="0.6" fill="#777" />
<line x1="184.90" y1="733.80" x2="191.00" y2="733.80" stroke="#555" stroke-width="0.6" />
<path d="M185.95,729.3 Q187.95,728.0999999999999 189.95,729.3 M185.95,738.3 Q187.95,739.5 189.95,738.3" stroke="#555" stroke-width="0.6" fill="none" />
<line x1="198.80" y1="623.00" x2="198.80" y2="630.00" stroke="#444" stroke-width="0.8" />
<line x1="198.80" y1="730.00" x2="198.80" y2="737.00" stroke="#444" stroke-width="0.8" />
<line x1="475.80" y1="586.50" x2="475.80" y2="723.00" stroke="#333" stroke-width="1" />
<rect x="349.00" y="613.80" width="89.50" height="71.10" rx="1.5" stroke="#777" stroke-width="1.6" fill="none"/>
<rect x="350.80" y="615.60" width="85.90" height="67.50" rx="1" stroke="#555" stroke-width="0.9" fill="none"/>
<line x1="373.20" y1="615.60" x2="373.20" y2="683.10" stroke="#777" stroke-width="1" />
<line x1="350.80" y1="649.30" x2="373.20" y2="649.30" stroke="#777" stroke-width="1" />
<rect x="348.20" y="592.80" width="11.00" height="16.40" stroke="#999" stroke-width="0.8" fill="none" />
<rect x="350.00" y="594.00" width="7.60" height="14.00" stroke="#444" stroke-width="0.9" fill="none" />
<circle cx="353.80" cy="596.08" r="1.10" stroke="#333" stroke-width="0.6" fill="#777" />
<circle cx="353.80" cy="601.00" r="1.10" stroke="#333" stroke-width="0.6" fill="#777" />
<circle cx="353.80" cy="605.92" r="1.10" stroke="#333" stroke-width="0.6" fill="#777" />
<line x1="350.80" y1="601.00" x2="356.80" y2="601.00" stroke="#555" stroke-width="0.6" />
<path d="M351.8,595.8 Q353.8,594.5999999999999 355.8,595.8 M351.8,606.2 Q353.8,607.4000000000001 355.8,606.2" stroke="#555" stroke-width="0.6" fill="none" />
<rect x="348.20" y="687.60" width="11.00" height="18.20" stroke="#999" stroke-width="0.8" fill="none" />
<rect x="350.00" y="688.80" width="7.60" height="15.80" stroke="#444" stroke-width="0.9" fill="none" />
<circle cx="353.80" cy="691.24" r="1.10" stroke="#333" stroke-width="0.6" fill="#777" />
<circle cx="353.80" cy="696.70" r="1.10" stroke="#333" stroke-width="0.6" fill="#777" />
<circle cx="353.80" cy="702.16" r="1.10" stroke="#333" stroke-width="0.6" fill="#777" />
<line x1="350.80" y1="696.70" x2="356.80" y2="696.70" stroke="#555" stroke-width="0.6" />
<path d="M351.8,690.6 Q353.8,689.4 355.8,690.6 M351.8,702.8 Q353.8,704.0 355.8,702.8" stroke="#555" stroke-width="0.6" fill="none" />
<line x1="533.60" y1="586.50" x2="533.60" y2="723.00" stroke="#333" stroke-width="1" />
<rect x="570.60" y="613.80" width="89.40" height="71.10" rx="1.5" stroke="#777" stroke-width="1.6" fill="none"/>
<rect x="572.40" y="615.60" width="85.80" height="67.50" rx="1" stroke="#555" stroke-width="0.9" fill="none"/>
<line x1="636.20" y1="615.60" x2="636.20" y2="683.10" stroke="#777" stroke-width="1" />
<line x1="636.20" y1="649.30" x2="658.20" y2="649.30" stroke="#777" stroke-width="1" />
<rect x="650.80" y="592.80" width="10.00" height="16.40" stroke="#999" stroke-width="0.8" fill="none" />
<rect x="652.20" y="594.00" width="7.20" height="14.00" stroke="#444" stroke-width="0.9" fill="none" />
<circle cx="655.80" cy="596.08" r="1.10" stroke="#333" stroke-width="0.6" fill="#777" />
<circle cx="655.80" cy="601.00" r="1.10" stroke="#333" stroke-width="0.6" fill="#777" />
<circle cx="655.80" cy="605.92" r="1.10" stroke="#333" stroke-width="0.6" fill="#777" />
<line x1="653.00" y1="601.00" x2="658.60" y2="601.00" stroke="#555" stroke-width="0.6" />
<path d="M653.8,595.8 Q655.8,594.5999999999999 657.8,595.8 M653.8,606.2 Q655.8,607.4000000000001 657.8,606.2" stroke="#555" stroke-width="0.6" fill="none" />
<rect x="650.80" y="687.60" width="10.00" height="18.20" stroke="#999" stroke-width="0.8" fill="none" />
<rect x="652.20" y="688.80" width="7.20" height="15.80" stroke="#444" stroke-width="0.9" fill="none" />
<circle cx="655.80" cy="691.24" r="1.10" stroke="#333" stroke-width="0.6" fill="#777" />
<circle cx="655.80" cy="696.70" r="1.10" stroke="#333" stroke-width="0.6" fill="#777" />
<circle cx="655.80" cy="702.16" r="1.10" stroke="#333" stroke-width="0.6" fill="#777" />
<line x1="653.00" y1="696.70" x2="658.60" y2="696.70" stroke="#555" stroke-width="0.6" />
<path d="M653.8,690.6 Q655.8,689.4 657.8,690.6 M653.8,702.8 Q655.8,704.0 657.8,702.8" stroke="#555" stroke-width="0.6" fill="none" />
<line x1="219.40" y1="778.00" x2="219.40" y2="864.30" stroke="#666" stroke-width="0.9" />
<rect x="182.00" y="782.30" width="33.60" height="78.50" stroke="#777" stroke-width="1" fill="none" />
<line x1="183.00" y1="783.30" x2="197.80" y2="853.90" stroke="#555" stroke-width="0.8" />
<line x1="214.60" y1="783.30" x2="199.80" y2="853.90" stroke="#555" stroke-width="0.8" />
<line x1="183.00" y1="859.30" x2="197.30" y2="855.40" stroke="#555" stroke-width="0.8" />
<line x1="214.60" y1="859.30" x2="200.30" y2="855.40" stroke="#555" stroke-width="0.8" />
<circle cx="198.80" cy="855.40" r="1.90" stroke="#444" stroke-width="0.8" fill="none" />
<path d="M228.8,859 L228.8,844.3 Q228.8,835.3 237.35000000000002,835.3 Q245.9,835.3 245.9,844.3 L245.9,859" stroke="#555" stroke-width="0.9" fill="none" />
<ellipse cx="237.35" cy="845.30" rx="6.05" ry="7.50" stroke="#555" stroke-width="0.8" fill="none" />
<circle cx="237.35" cy="845.80" r="1.70" stroke="#555" stroke-width="0.7" fill="none" />
<path d="M229.3,863 L229.3,860 Q237.35000000000002,856 245.4,860 L245.4,863 Z" stroke="#444" stroke-width="0.9" fill="none" />
<line x1="255.80" y1="837.20" x2="310.00" y2="837.20" stroke="#444" stroke-width="1" />
<line x1="255.80" y1="837.20" x2="255.80" y2="864.40" stroke="#444" stroke-width="1" />
<circle cx="283.20" cy="852.10" r="10.20" stroke="#444" stroke-width="0.9" fill="none" />
<circle cx="283.20" cy="852.10" r="8.60" stroke="#555" stroke-width="0.7" fill="none" />
<ellipse cx="270.50" cy="851.10" rx="2.30" ry="4.30" stroke="#555" stroke-width="0.8" fill="none" />
<ellipse cx="295.90" cy="851.10" rx="2.30" ry="4.30" stroke="#555" stroke-width="0.8" fill="none" />
<line x1="570.30" y1="778.00" x2="570.30" y2="864.30" stroke="#666" stroke-width="0.9" />
<rect x="533.50" y="782.00" width="32.30" height="78.50" stroke="#777" stroke-width="1" fill="none" />
<line x1="534.50" y1="783.00" x2="549.00" y2="854.10" stroke="#555" stroke-width="0.8" />
<line x1="564.80" y1="783.00" x2="551.00" y2="854.10" stroke="#555" stroke-width="0.8" />
<line x1="534.50" y1="859.00" x2="548.50" y2="855.60" stroke="#555" stroke-width="0.8" />
<line x1="564.80" y1="859.00" x2="551.50" y2="855.60" stroke="#555" stroke-width="0.8" />
<circle cx="550.00" cy="855.60" r="1.90" stroke="#444" stroke-width="0.8" fill="none" />
<path d="M581.3,859 L581.3,844.2 Q581.3,835.2 589.8499999999999,835.2 Q598.4,835.2 598.4,844.2 L598.4,859" stroke="#555" stroke-width="0.9" fill="none" />
<ellipse cx="589.85" cy="845.20" rx="6.05" ry="7.50" stroke="#555" stroke-width="0.8" fill="none" />
<circle cx="589.85" cy="845.70" r="1.70" stroke="#555" stroke-width="0.7" fill="none" />
<path d="M581.8,863 L581.8,860 Q589.8499999999999,856 597.9,860 L597.9,863 Z" stroke="#444" stroke-width="0.9" fill="none" />
<line x1="607.80" y1="837.30" x2="662.50" y2="837.30" stroke="#444" stroke-width="1" />
<line x1="607.80" y1="837.30" x2="607.80" y2="864.00" stroke="#444" stroke-width="1" />
<circle cx="634.40" cy="852.50" r="9.60" stroke="#444" stroke-width="0.9" fill="none" />
<circle cx="634.40" cy="852.50" r="8.00" stroke="#555" stroke-width="0.7" fill="none" />
<ellipse cx="622.30" cy="851.50" rx="2.30" ry="4.30" stroke="#555" stroke-width="0.8" fill="none" />
<ellipse cx="646.50" cy="851.50" rx="2.30" ry="4.30" stroke="#555" stroke-width="0.8" fill="none" />
<rect x="680.00" y="562.20" width="26.60" height="26.20" stroke="#aaa" stroke-width="0.8" fill="none" />
<rect x="682.50" y="564.70" width="21.60" height="21.20" stroke="#ccc" stroke-width="0.6" fill="none" />
<polygon points="694.5,579.0 695.9,570.6 694.5,555.0 693.1,570.6" fill="#555" stroke="#fff" stroke-width="0.35"/>
<polygon points="694.5,579.0 692.0,571.2 683.7,558.7 689.4,572.6" fill="#333" stroke="#fff" stroke-width="0.35"/>
<polygon points="694.5,579.0 699.6,572.6 705.3,558.7 697.0,571.2" fill="#333" stroke="#fff" stroke-width="0.35"/>
<polygon points="694.5,579.0 701.9,578.4 714.8,573.6 701.3,575.8" fill="#666" stroke="#fff" stroke-width="0.35"/>
<polygon points="694.5,579.0 701.6,582.8 716.0,583.6 702.5,578.4" fill="#111" stroke="#fff" stroke-width="0.35"/>
<polygon points="694.5,579.0 697.3,586.3 706.2,597.7 699.9,584.7" fill="#333" stroke="#fff" stroke-width="0.35"/>
<polygon points="694.5,579.0 692.5,586.2 692.7,599.9 695.2,586.4" fill="#777" stroke="#fff" stroke-width="0.35"/>
<polygon points="694.5,579.0 689.6,585.1 684.2,598.4 692.2,586.5" fill="#555" stroke="#fff" stroke-width="0.35"/>
<polygon points="694.5,579.0 688.5,578.2 677.6,580.5 688.7,580.9" fill="#666" stroke="#fff" stroke-width="0.35"/>
<polygon points="694.5,579.0 690.7,575.1 681.5,571.5 689.2,577.7" fill="#555" stroke="#fff" stroke-width="0.35"/>
<polygon points="694.5,579.0 691.6,573.5 682.5,567.0 689.0,576.1" fill="#222" stroke="#fff" stroke-width="0.35"/>
<polygon points="694.5,579.0 689.8,578.3 683.2,583.1 691.3,582.6" fill="#111" stroke="#fff" stroke-width="0.35"/>
<polygon points="694.5,579.0 699.3,577.1 705.2,570.0 697.2,574.6" fill="#333" stroke="#fff" stroke-width="0.35"/>
<polygon points="694.5,579.0 697.6,582.7 705.8,585.5 699.3,579.8" fill="#444" stroke="#fff" stroke-width="0.35"/>
<polygon points="694.5,579.0 689.6,580.8 683.8,588.0 691.9,583.5" fill="#222" stroke="#fff" stroke-width="0.35"/>
<polygon points="694.5,579.0 695.4,574.6 692.4,567.2 692.1,575.2" fill="#888" stroke="#fff" stroke-width="0.35"/>
<polygon points="694.5,579.0 693.6,583.4 696.6,590.8 696.9,582.8" fill="#555" stroke="#fff" stroke-width="0.35"/>
<g transform="translate(796.7,600.1) rotate(-41.5) ">
<rect x="-17.5" y="-17.5" width="35" height="35" rx="3" fill="#fff" stroke="#555" stroke-width="0.9"/>
<rect x="-17.5" y="-17.5" width="35" height="2.4" rx="1.2" fill="#333"/>
<rect x="-17.5" y="15.1" width="35" height="2.4" rx="1.2" fill="#333"/>
<line x1="-16.8" y1="-15" x2="-16.8" y2="15" stroke="#333" stroke-width="1.4"/>
<line x1="-13.8" y1="-15" x2="-13.8" y2="15" stroke="#666" stroke-width="0.6"/>
<line x1="-12.3" y1="-15" x2="-12.3" y2="15" stroke="#888" stroke-width="0.5"/>
<rect x="-10.5" y="-12" width="5" height="12" fill="none" stroke="#444" stroke-width="0.8"/>
<line x1="-8" y1="-11" x2="-8" y2="-1" stroke="#555" stroke-width="0.6"/>
<path d="M17,-16 Q4,-8 0,1 Q6,4 17,16" fill="none" stroke="#666" stroke-width="0.6"/>
</g>
<g transform="translate(856.6,600.3) rotate(29.8) scale(-1,1)">
<rect x="-17.5" y="-17.5" width="35" height="35" rx="3" fill="#fff" stroke="#555" stroke-width="0.9"/>
<rect x="-17.5" y="-17.5" width="35" height="2.4" rx="1.2" fill="#333"/>
<rect x="-17.5" y="15.1" width="35" height="2.4" rx="1.2" fill="#333"/>
<line x1="-16.8" y1="-15" x2="-16.8" y2="15" stroke="#333" stroke-width="1.4"/>
<line x1="-13.8" y1="-15" x2="-13.8" y2="15" stroke="#666" stroke-width="0.6"/>
<line x1="-12.3" y1="-15" x2="-12.3" y2="15" stroke="#888" stroke-width="0.5"/>
<rect x="-10.5" y="-12" width="5" height="12" fill="none" stroke="#444" stroke-width="0.8"/>
<line x1="-8" y1="-11" x2="-8" y2="-1" stroke="#555" stroke-width="0.6"/>
<path d="M17,-16 Q4,-8 0,1 Q6,4 17,16" fill="none" stroke="#666" stroke-width="0.6"/>
</g>
<rect x="988.30" y="589.30" width="82.10" height="34.90" stroke="#555" stroke-width="1" fill="none" />
<line x1="1003.00" y1="564.30" x2="1003.00" y2="589.30" stroke="#666" stroke-width="0.8" />
<line x1="1005.00" y1="565.30" x2="1005.00" y2="589.30" stroke="#666" stroke-width="0.7" />
<line x1="1022.50" y1="564.30" x2="1022.50" y2="589.30" stroke="#666" stroke-width="0.8" />
<line x1="1020.50" y1="565.30" x2="1020.50" y2="589.30" stroke="#666" stroke-width="0.7" />
<rect x="1003.00" y="565.30" width="19.50" height="3.50" stroke="#555" stroke-width="0.9" fill="none" />
<rect x="1002.00" y="562.30" width="2.20" height="5.00" stroke="#555" stroke-width="0.8" fill="none" />
<rect x="1021.30" y="562.30" width="2.20" height="5.00" stroke="#555" stroke-width="0.8" fill="none" />
<line x1="1003.00" y1="624.20" x2="1003.00" y2="649.70" stroke="#666" stroke-width="0.8" />
<line x1="1005.00" y1="624.20" x2="1005.00" y2="648.70" stroke="#666" stroke-width="0.7" />
<line x1="1022.50" y1="624.20" x2="1022.50" y2="649.70" stroke="#666" stroke-width="0.8" />
<line x1="1020.50" y1="624.20" x2="1020.50" y2="648.70" stroke="#666" stroke-width="0.7" />
<rect x="1003.00" y="645.20" width="19.50" height="3.50" stroke="#555" stroke-width="0.9" fill="none" />
<rect x="1002.00" y="646.70" width="2.20" height="5.00" stroke="#555" stroke-width="0.8" fill="none" />
<rect x="1021.30" y="646.70" width="2.20" height="5.00" stroke="#555" stroke-width="0.8" fill="none" />
<line x1="1038.30" y1="564.30" x2="1038.30" y2="589.30" stroke="#666" stroke-width="0.8" />
<line x1="1040.30" y1="565.30" x2="1040.30" y2="589.30" stroke="#666" stroke-width="0.7" />
<line x1="1056.90" y1="564.30" x2="1056.90" y2="589.30" stroke="#666" stroke-width="0.8" />
<line x1="1054.90" y1="565.30" x2="1054.90" y2="589.30" stroke="#666" stroke-width="0.7" />
<rect x="1038.30" y="565.30" width="18.60" height="3.50" stroke="#555" stroke-width="0.9" fill="none" />
<rect x="1037.30" y="562.30" width="2.20" height="5.00" stroke="#555" stroke-width="0.8" fill="none" />
<rect x="1055.70" y="562.30" width="2.20" height="5.00" stroke="#555" stroke-width="0.8" fill="none" />
<line x1="1038.30" y1="624.20" x2="1038.30" y2="649.70" stroke="#666" stroke-width="0.8" />
<line x1="1040.30" y1="624.20" x2="1040.30" y2="648.70" stroke="#666" stroke-width="0.7" />
<line x1="1056.90" y1="624.20" x2="1056.90" y2="649.70" stroke="#666" stroke-width="0.8" />
<line x1="1054.90" y1="624.20" x2="1054.90" y2="648.70" stroke="#666" stroke-width="0.7" />
<rect x="1038.30" y="645.20" width="18.60" height="3.50" stroke="#555" stroke-width="0.9" fill="none" />
<rect x="1037.30" y="646.70" width="2.20" height="5.00" stroke="#555" stroke-width="0.8" fill="none" />
<rect x="1055.70" y="646.70" width="2.20" height="5.00" stroke="#555" stroke-width="0.8" fill="none" />
<rect x="918.70" y="647.40" width="61.80" height="25.60" stroke="#888" stroke-width="1" fill="none" />
<rect x="920.90" y="649.60" width="57.40" height="21.20" stroke="#555" stroke-width="0.9" fill="none" />
<ellipse cx="931.60" cy="660.00" rx="7.70" ry="8.80" stroke="#555" stroke-width="0.8" fill="none" />
<ellipse cx="942.70" cy="660.00" rx="7.70" ry="8.80" stroke="#555" stroke-width="0.8" fill="none" />
<ellipse cx="953.90" cy="660.00" rx="7.70" ry="8.80" stroke="#555" stroke-width="0.8" fill="none" />
<ellipse cx="965.00" cy="660.00" rx="7.70" ry="8.80" stroke="#555" stroke-width="0.8" fill="none" />
<rect x="1160.20" y="565.00" width="27.40" height="37.00" stroke="#222" stroke-width="1.1" fill="#fff" />
<rect x="1162.00" y="565.50" width="25.60" height="36.00" stroke="#444" stroke-width="0.9" fill="#777" />
<line x1="1163.50" y1="566.00" x2="1163.50" y2="601.00" stroke="#ddd" stroke-width="0.5" />
<line x1="1164.70" y1="566.00" x2="1164.70" y2="601.00" stroke="#ddd" stroke-width="0.5" />
<line x1="1165.90" y1="566.00" x2="1165.90" y2="601.00" stroke="#ddd" stroke-width="0.5" />
<line x1="1167.10" y1="566.00" x2="1167.10" y2="601.00" stroke="#ddd" stroke-width="0.5" />
<line x1="1168.30" y1="566.00" x2="1168.30" y2="601.00" stroke="#ddd" stroke-width="0.5" />
<line x1="1169.50" y1="566.00" x2="1169.50" y2="601.00" stroke="#999" stroke-width="0.5" />
<line x1="1170.70" y1="566.00" x2="1170.70" y2="601.00" stroke="#999" stroke-width="0.5" />
<line x1="1171.90" y1="566.00" x2="1171.90" y2="601.00" stroke="#999" stroke-width="0.5" />
<line x1="1173.10" y1="566.00" x2="1173.10" y2="601.00" stroke="#999" stroke-width="0.5" />
<line x1="1170.00" y1="565.00" x2="1170.00" y2="602.00" stroke="#333" stroke-width="0.8" />
<rect x="1160.20" y="613.00" width="27.40" height="54.50" stroke="#222" stroke-width="1.1" fill="#fff" />
<rect x="1162.70" y="622.80" width="22.30" height="35.20" rx="1.2" stroke="#555" stroke-width="1" fill="none"/>
<rect x="1164.10" y="624.40" width="19.50" height="16.70" rx="4" stroke="#444" stroke-width="0.9" fill="none"/>
<circle cx="1179.80" cy="633.01" r="1.80" stroke="#333" stroke-width="0.9" fill="none" />
<ellipse cx="1173.85" cy="648.85" rx="9.55" ry="7.39" stroke="#222" stroke-width="0.8" fill="#1a1a1a" />
<line x1="1171.05" y1="642.16" x2="1171.05" y2="655.89" stroke="#eee" stroke-width="0.9" />
<line x1="1173.85" y1="642.16" x2="1173.85" y2="655.89" stroke="#eee" stroke-width="0.9" />
<line x1="1176.65" y1="642.16" x2="1176.65" y2="655.89" stroke="#eee" stroke-width="0.9" />
<rect x="667.70" y="776.70" width="18.80" height="92.20" stroke="#888" stroke-width="0.9" fill="none" />
<rect x="669.50" y="779.00" width="14.00" height="87.50" stroke="#777" stroke-width="0.8" fill="none" />
<rect x="669.50" y="781.00" width="9.50" height="83.00" stroke="#888" stroke-width="0.7" fill="none" />
<rect x="670.50" y="792.00" width="5.00" height="56.00" rx="2" stroke="#444" stroke-width="0.9" fill="none"/>
<line x1="677.00" y1="818.00" x2="677.00" y2="858.00" stroke="#999" stroke-width="0.8" />
<line x1="684.60" y1="807.00" x2="684.60" y2="852.00" stroke="#444" stroke-width="1" />
<rect x="749.40" y="766.80" width="31.60" height="32.20" rx="3" stroke="#777" stroke-width="1" fill="none"/>
<circle cx="765.50" cy="783.50" r="5.80" stroke="#666" stroke-width="0.8" fill="none" />
<circle cx="765.50" cy="783.50" r="3.20" stroke="#666" stroke-width="0.6" fill="none" />
<circle cx="755.90" cy="784.00" r="2.60" stroke="#666" stroke-width="0.8" fill="none" />
<circle cx="770.60" cy="773.50" r="1.20" stroke="#666" stroke-width="0.6" fill="none" />
<circle cx="757.00" cy="791.00" r="1.20" stroke="#666" stroke-width="0.6" fill="none" />
<rect x="797.20" y="733.70" width="47.00" height="40.20" rx="2.5" stroke="#444" stroke-width="0.9" fill="none"/>
<rect x="798.60" y="735.10" width="44.20" height="37.40" rx="2" stroke="#888" stroke-width="0.6" fill="none"/>
<rect x="797.20" y="773.90" width="34.60" height="40.70" rx="2.5" stroke="#444" stroke-width="0.9" fill="none"/>
<rect x="789.30" y="814.60" width="44.20" height="56.30" rx="2.5" stroke="#444" stroke-width="0.9" fill="none"/>
<rect x="749.40" y="821.70" width="39.90" height="49.20" rx="2.5" stroke="#444" stroke-width="0.9" fill="none"/>
<rect x="750.80" y="823.10" width="37.10" height="46.40" rx="2" stroke="#888" stroke-width="0.6" fill="none"/>
<rect x="832.10" y="746.40" width="12.90" height="81.50" rx="2.5" stroke="#444" stroke-width="1" fill="#fff"/>
<rect x="833.50" y="748.00" width="10.10" height="78.50" rx="2" stroke="#888" stroke-width="0.6" fill="none"/>
<path d="M831.8,827.9 L845.6,827.9 L845.6,870.9 L789.3,870.9" stroke="#444" stroke-width="0.9" fill="none" />
<path d="M831.8,857 L845,870" stroke="#444" stroke-width="0.8" fill="none" />
<rect x="762.70" y="857.00" width="40.70" height="13.90" rx="2.5" stroke="#444" stroke-width="0.9" fill="#fff"/>
<g fill="#fff" stroke="#444" stroke-width="0.9">
<rect x="-4.2" y="-14" width="8.4" height="28" rx="4" transform="translate(824.7,763.2) rotate(-18)"/>
<rect x="-4.2" y="-13.5" width="8.4" height="27" rx="4" transform="translate(825.6,819) rotate(15)"/>
<rect x="-4.2" y="-13.5" width="8.4" height="27" rx="4" transform="translate(825.6,843.8) rotate(20)"/>
<rect x="-14" y="-4.5" width="28" height="9" rx="4.5" transform="translate(792.5,851.8) rotate(2)"/>
</g>
<rect x="917.70" y="748.20" width="46.00" height="91.20" stroke="#555" stroke-width="1" fill="none" />
<rect x="897.30" y="758.40" width="3.20" height="15.00" stroke="#333" stroke-width="0.9" fill="#777" />
<path d="M900.5,758.9 L917.7,756.9 M900.5,772.9 L917.7,774.9" stroke="#555" stroke-width="0.9" fill="none" />
<rect x="983.50" y="758.40" width="3.20" height="15.00" stroke="#333" stroke-width="0.9" fill="#777" />
<path d="M983.5,758.9 L963.7,756.9 M983.5,772.9 L963.7,774.9" stroke="#555" stroke-width="0.9" fill="none" />
<rect x="897.30" y="785.80" width="3.20" height="15.00" stroke="#333" stroke-width="0.9" fill="#777" />
<path d="M900.5,786.3 L917.7,784.3 M900.5,800.3 L917.7,802.3" stroke="#555" stroke-width="0.9" fill="none" />
<rect x="983.50" y="785.80" width="3.20" height="15.00" stroke="#333" stroke-width="0.9" fill="#777" />
<path d="M983.5,786.3 L963.7,784.3 M983.5,800.3 L963.7,802.3" stroke="#555" stroke-width="0.9" fill="none" />
<rect x="897.30" y="814.20" width="3.20" height="15.00" stroke="#333" stroke-width="0.9" fill="#777" />
<path d="M900.5,814.7 L917.7,812.7 M900.5,828.7 L917.7,830.7" stroke="#555" stroke-width="0.9" fill="none" />
<rect x="983.50" y="814.20" width="3.20" height="15.00" stroke="#333" stroke-width="0.9" fill="#777" />
<path d="M983.5,814.7 L963.7,812.7 M983.5,828.7 L963.7,830.7" stroke="#555" stroke-width="0.9" fill="none" />
<line x1="1155.60" y1="691.60" x2="1155.60" y2="870.90" stroke="#777" stroke-width="0.9" />
<rect x="1153.50" y="844.00" width="28.90" height="26.90" stroke="#999" stroke-width="0.8" fill="none" />
<rect x="1158.70" y="731.70" width="22.80" height="35.20" rx="1.2" stroke="#555" stroke-width="1" fill="none"/>
<rect x="1160.10" y="733.30" width="20.00" height="16.70" rx="4" stroke="#444" stroke-width="0.9" fill="none"/>
<circle cx="1176.30" cy="741.91" r="1.80" stroke="#333" stroke-width="0.9" fill="none" />
<ellipse cx="1170.10" cy="757.75" rx="9.80" ry="7.39" stroke="#222" stroke-width="0.8" fill="#1a1a1a" />
<line x1="1167.30" y1="751.06" x2="1167.30" y2="764.79" stroke="#eee" stroke-width="0.9" />
<line x1="1170.10" y1="751.06" x2="1170.10" y2="764.79" stroke="#eee" stroke-width="0.9" />
<line x1="1172.90" y1="751.06" x2="1172.90" y2="764.79" stroke="#eee" stroke-width="0.9" />
<rect x="1050.50" y="745.80" width="36.90" height="125.10" stroke="#444" stroke-width="1" fill="none" />
<rect x="1056.00" y="762.30" width="24.70" height="27.80" stroke="#333" stroke-width="0.9" fill="#5a5a5a" />
<circle cx="1062.50" cy="769.70" r="4.20" stroke="#888" stroke-width="0.7" fill="none" />
<circle cx="1074.20" cy="769.70" r="4.20" stroke="#888" stroke-width="0.7" fill="none" />
<circle cx="1062.50" cy="782.70" r="4.20" stroke="#888" stroke-width="0.7" fill="none" />
<circle cx="1074.20" cy="782.70" r="4.20" stroke="#888" stroke-width="0.7" fill="none" />
<path d="M1050.5,810.7 L1037,810.7 Q1034.3,810.7 1034.3,813.7 L1034.3,826.8 Q1034.3,829.8 1037,829.8 L1050.5,829.8" stroke="#777" stroke-width="1" fill="none" />
<path d="M1050.5,812.7 L1038,812.7 Q1036.5,812.7 1036.5,814.7 L1036.5,825.8 Q1036.5,827.8 1038,827.8 L1050.5,827.8" stroke="#999" stroke-width="0.7" fill="none" />
<path d="M1050.5,840.7 L1037,840.7 Q1034.3,840.7 1034.3,843.7 L1034.3,856.3 Q1034.3,859.3 1037,859.3 L1050.5,859.3" stroke="#777" stroke-width="1" fill="none" />
<path d="M1050.5,842.7 L1038,842.7 Q1036.5,842.7 1036.5,844.7 L1036.5,855.3 Q1036.5,857.3 1038,857.3 L1050.5,857.3" stroke="#999" stroke-width="0.7" fill="none" />
<line x1="1078.40" y1="876.30" x2="1078.40" y2="930.50" stroke="#333" stroke-width="1.4" />
<line x1="1155.20" y1="876.30" x2="1155.20" y2="930.50" stroke="#444" stroke-width="1" />
<line x1="1080.50" y1="880.00" x2="1080.50" y2="895.00" stroke="#888" stroke-width="0.8" />
<line x1="1080.50" y1="905.00" x2="1080.50" y2="922.00" stroke="#888" stroke-width="0.8" />
</svg></body></html>
